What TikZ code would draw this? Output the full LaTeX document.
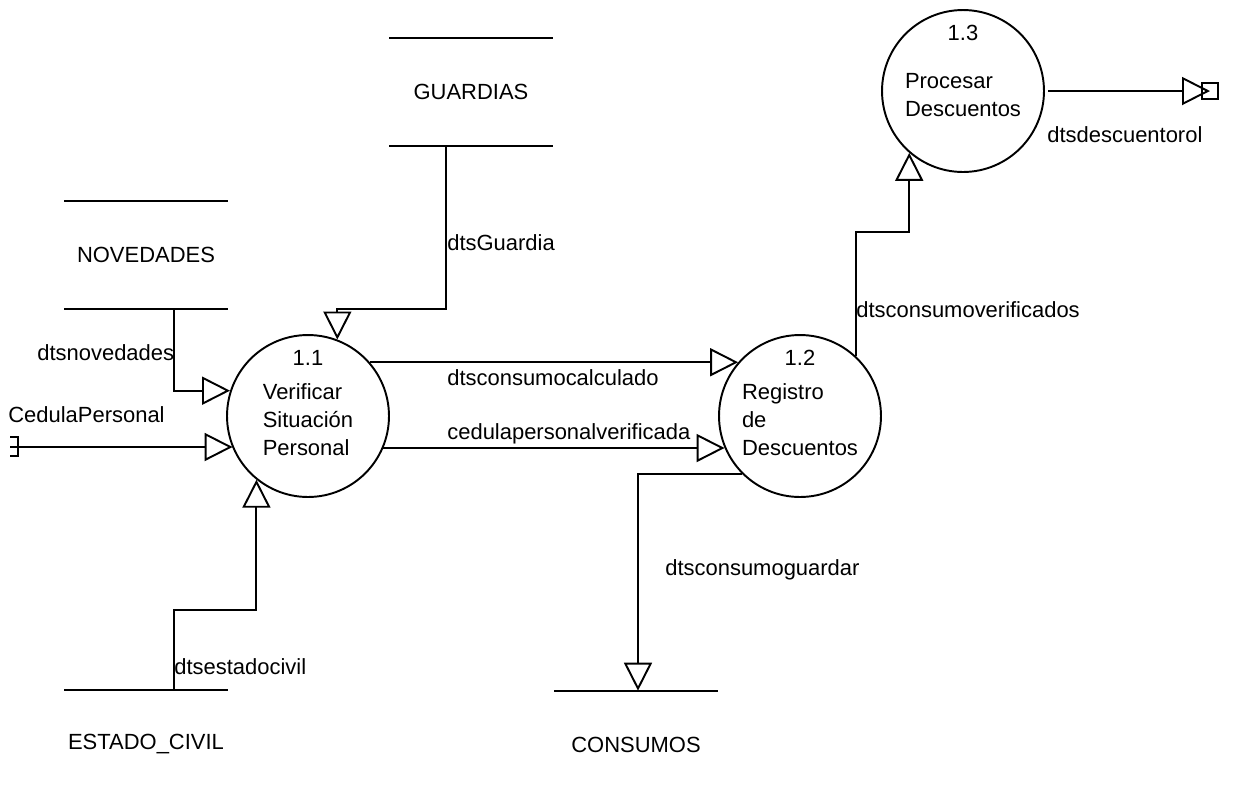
\documentclass[tikz,border=0pt]{standalone}
\usepackage{fontspec}
\setmainfont{Liberation Sans}
\usetikzlibrary{arrows.meta,calc,positioning}

\newcommand{\ptxt}[1]{\raisebox{-3.6pt}[\height][\depth]{\begin{tabular}{@{}l@{}}#1\end{tabular}}}

\tikzset{
  proc/.style={draw, circle, line width=1.1pt, minimum size=3.24cm, inner sep=0pt},
  store/.style={minimum width=3.26cm, minimum height=2.16cm, inner sep=0pt},
  lbl/.style={anchor=west, inner sep=0pt},
  flow/.style={line width=1.1pt, -{Triangle[open,length=0.56cm,width=0.56cm]}},
  num/.style={anchor=north, yshift=-9pt, inner sep=0pt},
}

\begin{document}
\begin{tikzpicture}[x=0.02cm, y=-0.02cm, font=\fontsize{12.5}{15.9}\selectfont]
  \useasboundingbox (0,0) rectangle (1235,796);
  \node[proc, label={[num]north:1.1}] (p11) at (308,416) {\ptxt{Verificar\\Situación\\Personal}};
  \node[proc, label={[num]north:1.2}] (p12) at (800,416) {\ptxt{Registro\\de\\Descuentos}};
  \node[proc, label={[num]north:1.3}] (p13) at (963,91) {\ptxt{Procesar\\Descuentos}};
  \node[store] (guardias) at (471,92) {GUARDIAS};
  \node[store] (novedades) at (146,255) {NOVEDADES};
  \node[store] (estado) at (146,744) {ESTADO\_CIVIL};
  \node[store] (consumos) at (636,745) {CONSUMOS};
  \foreach \s in {guardias,novedades}
    \draw[line width=1.1pt] (\s.north west) -- (\s.north east) (\s.south west) -- (\s.south east);
  \foreach \s in {estado,consumos}
    \draw[line width=1.1pt] (\s.north west) -- (\s.north east);
  \coordinate (ced) at (10,447);
  \coordinate (rol) at (1210,91);
  \draw[line width=1.1pt] ([shift={(0,-10)}]ced) -| ([shift={(8,9)}]ced) -- ([shift={(0,9)}]ced);
  \draw[line width=1.1pt] ([shift={(-8,-8)}]rol) rectangle ([shift={(8,8)}]rol);
  \draw[flow] ($(guardias.south)+(-25,0)$) -- ++(0,163) -| (p11.69);
  \draw[flow] ($(novedades.south)+(28,0)$) |- (p11.162);
  \draw[flow] (ced) -- (ced -| p11.203);
  \draw[flow] ($(estado.north)+(28,0)$) -- ++(0,-80) -| (p11.231);
  \draw[flow] (p11.41) -- (p11.41 -| p12.139);
  \draw[flow] (p11.337) -- (p11.337 -| p12.203);
  \draw[flow] (p12.225) -| ($(consumos.north)+(2,0)$);
  \draw[flow] (p12.47) -- ++(0,-124) -| (p13.229);
  \draw[flow] ([xshift=2pt]p13.east) -- (rol);
  \node[lbl] (lguardia) at (447,243) {dtsGuardia};
  \node[lbl] (lnovedades) at (37,353) {dtsnovedades};
  \node[lbl] (lcedula) at (8,415) {CedulaPersonal};
  \node[lbl] (lestado) at (174,667) {dtsestadocivil};
  \node[lbl] (lcalculado) at (447,378) {dtsconsumocalculado};
  \node[lbl] (lverificada) at (447,434) {cedulapersonalverificada};
  \node[lbl] (lguardar) at (665,570) {dtsconsumoguardar};
  \node[lbl] (lverificados) at (856,310) {dtsconsumoverificados};
  \node[lbl] (lrol) at (1047,135) {dtsdescuentorol};
\end{tikzpicture}
\end{document}
